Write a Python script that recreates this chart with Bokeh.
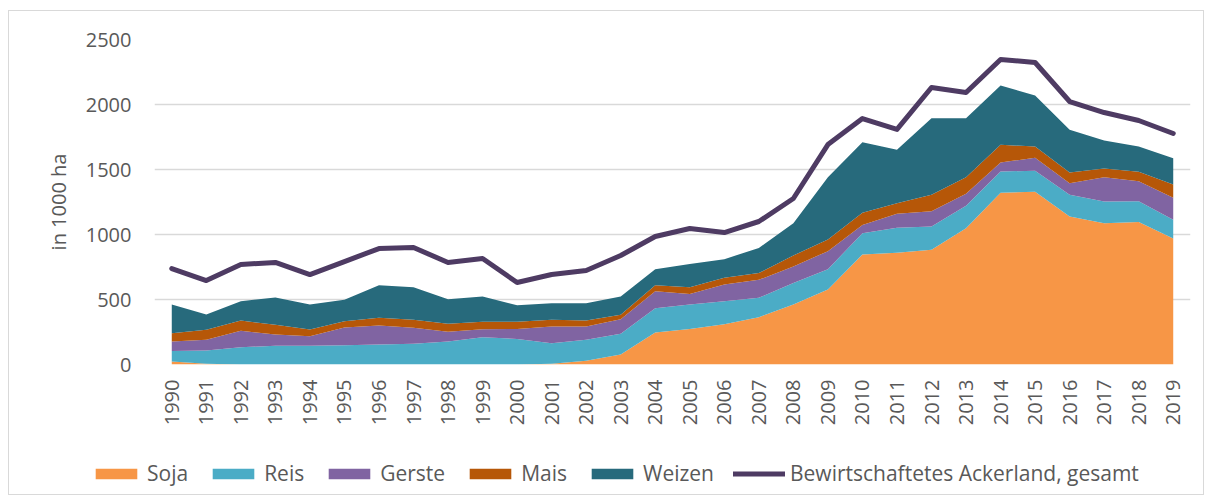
import math
from bokeh.plotting import figure
from bokeh.models import ColumnDataSource, Legend, LegendItem, FixedTicker, Range1d
from bokeh.embed import file_html
from bokeh.resources import INLINE

years = list(range(1990, 2020))
soja = [23, 5, 0, 0, 0, 0, 0, 0, 0, 0, 0, 5, 28, 77, 246, 274, 310, 364, 462, 577,
        846, 859, 882, 1049, 1321, 1328, 1138, 1087, 1097, 969]
reis = [80, 103, 133, 144, 144, 149, 154, 159, 177, 210, 197, 159, 162, 159, 187, 188, 177, 149, 164, 156,
        164, 192, 180, 172, 164, 162, 167, 167, 159, 144]
gerste = [74, 82, 126, 87, 74, 136, 146, 123, 74, 62, 77, 128, 102, 113, 131, 81, 128, 138, 128, 139,
          64, 108, 117, 92, 69, 100, 90, 187, 154, 169]
mais = [64, 77, 79, 74, 51, 48, 59, 62, 62, 56, 54, 52, 46, 33, 46, 52, 52, 52, 84, 90,
        93, 82, 126, 128, 136, 87, 82, 67, 72, 103]
weizen = [221, 118, 149, 210, 193, 165, 251, 251, 189, 195, 128, 128, 134, 141, 123, 179, 143, 194, 249, 479,
          543, 410, 590, 454, 456, 392, 328, 215, 195, 202]
total = [738, 646, 769, 785, 692, 792, 892, 900, 785, 815, 631, 692, 723, 838, 985, 1046, 1015, 1100, 1277, 1692,
         1892, 1808, 2131, 2092, 2346, 2323, 2023, 1938, 1877, 1777]

series_names = ["Soja", "Reis", "Gerste", "Mais", "Weizen"]
series_colors = ["#F79646", "#4BACC6", "#8064A2", "#B65708", "#276A7C"]
line_name = "Bewirtschaftetes Ackerland, gesamt"
line_color = "#4E3B63"
y_ticks = [0, 500, 1000, 1500, 2000, 2500]

src = ColumnDataSource(dict(year=years, Soja=soja, Reis=reis, Gerste=gerste,
                            Mais=mais, Weizen=weizen, total=total))

FONT = "Open Sans"
TXT = "#595959"
BORDER = "1px solid #d9d9d9"

p = figure(width=1196, height=430, output_backend="svg", toolbar_location=None,
           x_range=Range1d(1989.5, 2019.5), y_range=Range1d(0, 2500),
           min_border_left=145, min_border_right=15, min_border_top=28, min_border_bottom=77)
p.outline_line_color = None
p.styles = {"border-left": BORDER, "border-right": BORDER, "border-top": BORDER,
            "margin-left": "8px", "margin-top": "10px"}

areas = p.varea_stack(stackers=series_names, x="year", color=series_colors, source=src)
ln = p.line("year", "total", source=src, line_width=5, line_color=line_color,
            line_join="round", line_cap="round")

# axes
p.xaxis.ticker = FixedTicker(ticks=years)
p.xaxis.major_label_orientation = math.pi / 2
p.xaxis.axis_line_color = None
p.xaxis.major_tick_line_color = None
p.xaxis.minor_tick_line_color = None
p.xaxis.major_tick_out = 0
p.xaxis.major_label_standoff = 15
p.xaxis.major_label_text_font = FONT
p.xaxis.major_label_text_font_size = "20px"
p.xaxis.major_label_text_color = TXT

p.yaxis.ticker = FixedTicker(ticks=y_ticks)
p.yaxis.axis_line_color = None
p.yaxis.major_tick_line_color = None
p.yaxis.minor_tick_line_color = None
p.yaxis.major_tick_out = 0
p.yaxis.major_label_standoff = 23
p.yaxis.major_label_text_font = FONT
p.yaxis.major_label_text_font_size = "20px"
p.yaxis.major_label_text_color = TXT
p.yaxis.axis_label = "in 1000 ha"
p.yaxis.axis_label_text_font = FONT
p.yaxis.axis_label_text_font_size = "20px"
p.yaxis.axis_label_text_font_style = "normal"
p.yaxis.axis_label_text_color = TXT
p.yaxis.axis_label_standoff = 11

p.xgrid.visible = False
p.ygrid.ticker = FixedTicker(ticks=y_ticks)
p.ygrid.grid_line_color = "#d9d9d9"
p.ygrid.grid_line_width = 1.5

# legend strip: a separate root so its frame spans the full width
q = figure(width=1196, height=55, output_backend="svg", toolbar_location=None,
           x_range=Range1d(0, 1), y_range=Range1d(0, 1),
           min_border_left=0, min_border_right=0, min_border_top=0, min_border_bottom=0)
q.axis.visible = False
q.grid.visible = False
q.outline_line_color = None
q.styles = {"border-left": BORDER, "border-right": BORDER, "border-bottom": BORDER,
            "margin-left": "8px"}
# proxy renderers lie outside q's visible range; they only supply the legend glyphs
leg_renderers = [q.varea(x=[5, 6], y1=[5, 5], y2=[6, 6], color=c) for c in series_colors]
leg_line = q.line(x=[5, 6], y=[5, 6], line_width=5, line_color=line_color, line_cap="round")

items = [LegendItem(label=n, renderers=[r]) for n, r in zip(series_names, leg_renderers)]
items.append(LegendItem(label=line_name, renderers=[leg_line]))
legend = Legend(items=items, orientation="horizontal", location=(81, 8),
                label_text_font=FONT, label_text_font_size="21px", label_text_color=TXT,
                glyph_width=52, glyph_height=13, label_standoff=5, spacing=19,
                padding=0, margin=0, border_line_color=None, background_fill_alpha=0)
q.add_layout(legend, "center")

open("out.html", "w").write(file_html([p, q], INLINE))
